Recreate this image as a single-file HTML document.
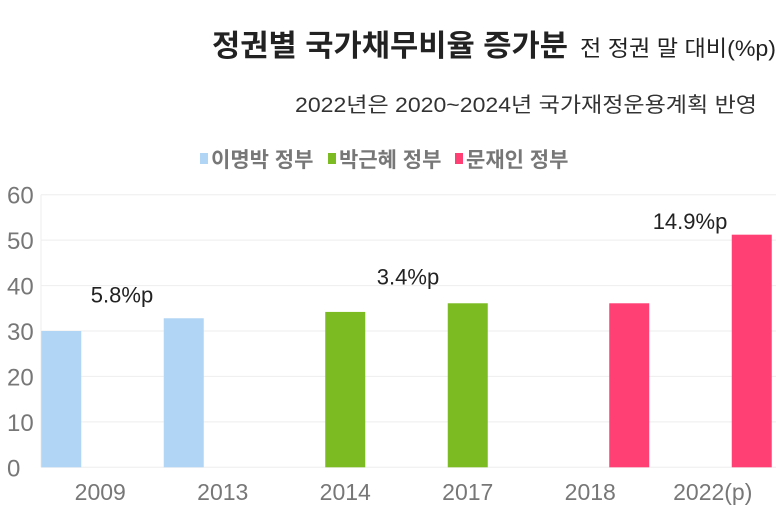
<!DOCTYPE html>
<html><head><meta charset="utf-8"><style>
body{margin:0;background:#fff;width:780px;height:520px;overflow:hidden;font-family:"Liberation Sans","Noto Sans CJK KR",sans-serif}
</style></head><body>
<svg width="780" height="520" style="font-family:'Liberation Sans','Noto Sans CJK KR',sans-serif">
<text x="212" y="56" font-size="30" font-weight="bold" fill="#222" textLength="356" lengthAdjust="spacingAndGlyphs">정권별 국가채무비율 증가분</text>
<text x="776" y="56" text-anchor="end" font-size="22" fill="#222" textLength="196" lengthAdjust="spacingAndGlyphs">전 정권 말 대비(%p)</text>
<text x="757" y="112" text-anchor="end" font-size="21" fill="#333" textLength="462" lengthAdjust="spacingAndGlyphs">2022년은 2020~2024년 국가재정운용계획 반영</text>
<g id="legend"></g>
<g id="grid"></g><g id="bars"></g><g id="labels"></g>
</svg>
<script>
const categories=["2009","2013","2014","2017","2018","2022(p)"];
const seriesNames=["이명박 정부","박근혜 정부","문재인 정부"];
const seriesIndex=[0,0,1,1,2,2];
const values=[30.0,32.8,34.2,36.1,36.1,51.2];
const yTicks=[0,10,20,30,40,50,60];
const annotations=["5.8%p","3.4%p","14.9%p"];
const annotationAt=[38,42,54.2];
const colors=["#b0d5f5","#7cbb22","#ff4074"];
const NS="http://www.w3.org/2000/svg";
const L=41,R=776,T=194.7,B=467.3,ymax=60;
const y=v=>B-(v/ymax)*(B-T);
const band=(R-L)/categories.length;
const cx=i=>L+band*(i+0.5)-3;
const slot=39,bw=40;
const sx=(i,s)=>cx(i)+(s-1)*slot-bw/2+1;
const annX=[122,408,690];
function el(t,a,p){const e=document.createElementNS(NS,t);for(const k in a)e.setAttribute(k,a[k]);document.getElementById(p).appendChild(e);return e;}
yTicks.forEach(t=>{
 const g=el("line",{x1:L,x2:R,y1:y(t),y2:y(t),stroke:"#eeeeee","stroke-width":1},"grid");
 
 
 const tx=el("text",{x:7,y:y(t)+9,"font-size":24,fill:"#777"},"grid");tx.textContent=t;
 
 
});
el("line",{x1:L,x2:L,y1:T,y2:B,stroke:"#eeeeee"},"grid");
categories.forEach((c,i)=>{
 const s=seriesIndex[i];
 const r=el("rect",{x:sx(i,s),y:y(values[i]),width:bw,height:B-y(values[i]),fill:colors[s]},"bars");
 
 
 const t=el("text",{x:cx(i)+1,y:500,"text-anchor":"middle","font-size":23,fill:"#777"},"labels");t.textContent=c;
 
 
});
annotations.forEach((a,s)=>{
 const t=el("text",{x:annX[s],y:y(annotationAt[s])+8,"text-anchor":"middle","font-size":22,fill:"#222"},"labels");t.textContent=a;
 
 
});
const lx=[200,328,455];
seriesNames.forEach((n,s)=>{
 const r=el("rect",{x:lx[s],y:153,width:8,height:11,fill:colors[s]},"legend");
 
 
 const t=el("text",{x:lx[s]+11,y:167,"font-size":21,"font-weight":"bold",fill:"#777"},"legend");t.textContent=n;
 
 
});
</script>
</body></html>
